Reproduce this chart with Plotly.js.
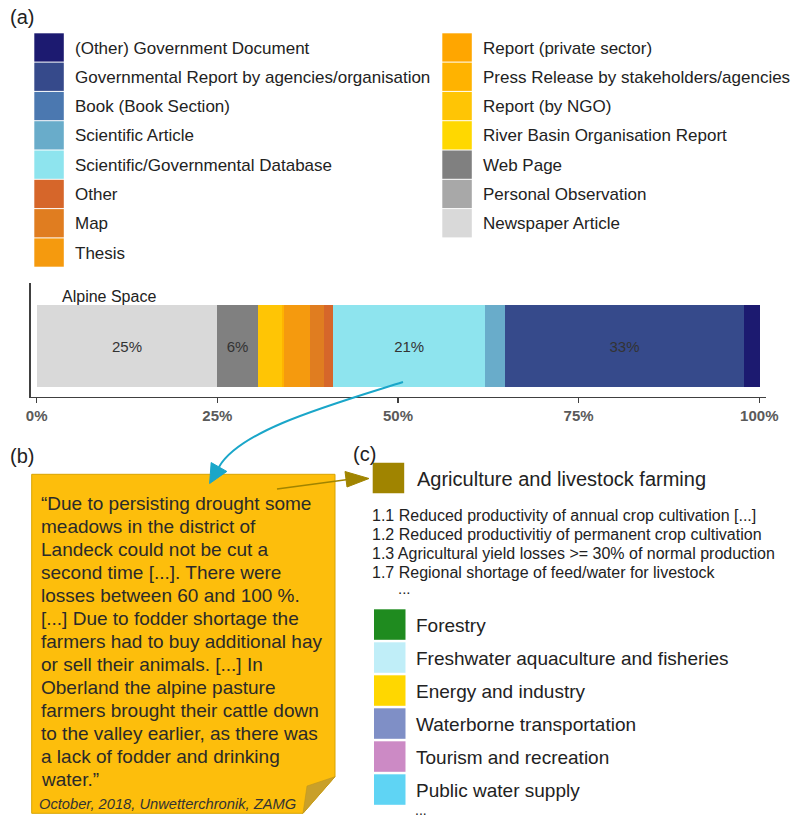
<!DOCTYPE html>
<html>
<head>
<meta charset="utf-8">
<script src="https://cdn.plot.ly/plotly-3.0.1.min.js"></script>
<style>html,body{margin:0;padding:0;background:#fff;}#chart{width:793px;height:819px;}</style>
</head>
<body>
<div id="chart"></div>
<script>
// ---------- data ----------
const categories = [
  '(Other) Government Document',
  'Governmental Report by agencies/organisation',
  'Book (Book Section)',
  'Scientific Article',
  'Scientific/Governmental Database',
  'Other',
  'Map',
  'Thesis',
  'Report (private sector)',
  'Press Release by stakeholders/agencies',
  'Report (by NGO)',
  'River Basin Organisation Report',
  'Web Page',
  'Personal Observation',
  'Newspaper Article'
];
const shares = [2.1, 33.2, 0, 2.7, 21.0, 1.25, 2.0, 3.6, 0, 0.2, 3.4, 0, 5.6, 0, 25.0];
const colors = [
  '#1C1A70', '#364A8B', '#4B78B0', '#69ACCA', '#8EE4EE',
  '#D6662A', '#E07D20', '#F59A0E', '#FFA600', '#FFB300',
  '#FFC505', '#FFD800', '#808080', '#A8A8A8', '#D9D9D9'
];
const region = 'Alpine Space';
const tickVals = [0, 25, 50, 75, 100];
const tickLabels = ['0%', '25%', '50%', '75%', '100%'];

const quoteLines = [
  '\u201CDue to persisting drought some',
  'meadows in the district of',
  'Landeck could not be cut a',
  'second time [...]. There were',
  'losses between 60 and 100 %.',
  '[...] Due to fodder shortage the',
  'farmers had to buy additional hay',
  'or sell their animals. [...] In',
  'Oberland the alpine pasture',
  'farmers brought their cattle down',
  'to the valley earlier, as there was',
  'a lack of fodder and drinking',
  'water.\u201D'
];
const quoteSource = 'October, 2018, Unwetterchronik, ZAMG';

const impactCategories = [
  'Agriculture and livestock farming',
  'Forestry',
  'Freshwater aquaculture and fisheries',
  'Energy and industry',
  'Waterborne transportation',
  'Tourism and recreation',
  'Public water supply'
];
const impactColors = ['#A08400', '#1F8B1F', '#C0EEF8', '#FFD700', '#7F8FC6', '#CC8AC5', '#5FD4F4'];
const agricultureImpacts = [
  '1.1 Reduced productivity of annual crop cultivation [...]',
  '1.2 Reduced productivitiy of permanent crop cultivation',
  '1.3 Agricultural yield losses >= 30% of normal production',
  '1.7 Regional shortage of feed/water for livestock'
];
const panelLabels = ['(a)', '(b)', '(c)'];

// ---------- helpers ----------
const W = 793, H = 819;
const px = x => x / W;
const py = y => 1 - y / H;
const FONT = 'Liberation Sans, Arial, sans-serif';

// ---------- bar traces (stacked from Newspaper Article leftwards) ----------
const traces = [];
for (let i = categories.length - 1; i >= 0; i--) {
  const v = shares[i];
  traces.push({
    type: 'bar', orientation: 'h',
    x: [v], y: [0], width: 1,
    name: categories[i],
    marker: {color: colors[i], line: {width: 0}},
    text: [v >= 5 ? Math.round(v) + '%' : ''],
    textposition: 'inside', insidetextanchor: 'middle', textangle: 0,
    textfont: {family: FONT, size: 15, color: '#333333'},
    hoverinfo: 'skip', showlegend: false
  });
}

const shapes = [];
const annotations = [];

// ---------- legend (a) ----------
const step = 29.3;
categories.forEach((c, i) => {
  const col = i < 8 ? 0 : 1;
  const row = col === 0 ? i : i - 8;
  const x0 = col === 0 ? 34.3 : 442.3;
  const top = 33.3 + row * step;
  shapes.push({type: 'rect', xref: 'paper', yref: 'paper',
    x0: px(x0), x1: px(x0 + 29.5), y0: py(top + step - 1), y1: py(top),
    fillcolor: colors[i], line: {width: 0}});
  annotations.push({xref: 'paper', yref: 'paper', x: px(x0 + 39), y: py(top + 14.8),
    xanchor: 'left', yanchor: 'middle', showarrow: false, text: c,
    font: {family: FONT, size: 17, color: '#222'}});
});

// panel labels
[[8, 17], [8, 456], [351, 454]].forEach((p, i) => {
  annotations.push({xref: 'paper', yref: 'paper', x: px(p[0]), y: py(p[1]),
    xanchor: 'left', yanchor: 'middle', showarrow: false, text: panelLabels[i],
    font: {family: FONT, size: 20, color: '#222'}});
});

// region label
annotations.push({xref: 'paper', yref: 'paper', x: px(60), y: py(296),
  xanchor: 'left', yanchor: 'middle', showarrow: false, text: region,
  font: {family: FONT, size: 16, color: '#222'}});

// ---------- note (b) ----------
const nL = 31.7, nT = 474.3, nR = 335, nB = 813.3, fX = 303, fY = 776.7;
shapes.push({type: 'path', xref: 'paper', yref: 'paper',
  path: `M ${px(nL)} ${py(nT)} L ${px(nR)} ${py(nT)} L ${px(nR)} ${py(fY)} L ${px(fX)} ${py(nB)} L ${px(nL)} ${py(nB)} Z`,
  fillcolor: '#FDBE0C', line: {color: '#D9A400', width: 1}});
shapes.push({type: 'path', xref: 'paper', yref: 'paper',
  path: `M ${px(nR)} ${py(fY)} L ${px(fX)} ${py(nB)} L ${px(307)} ${py(786)} Z`,
  fillcolor: '#C9A02A', line: {color: '#B8921F', width: 0.5}});
quoteLines.forEach((t, i) => {
  annotations.push({xref: 'paper', yref: 'paper', x: px(39), y: py(503.3 + i * 23.05),
    xanchor: 'left', yanchor: 'middle', showarrow: false, text: t,
    font: {family: FONT, size: 19, color: '#2a2a2a'}});
});
annotations.push({xref: 'paper', yref: 'paper', x: px(37), y: py(803.5),
  xanchor: 'left', yanchor: 'middle', showarrow: false, text: '<i>' + quoteSource + '</i>',
  font: {family: FONT, size: 14.7, color: '#333'}});

// ---------- impact list (c) ----------
impactCategories.forEach((c, i) => {
  let top, x0, lx, fs;
  if (i === 0) { top = 462.7; x0 = 372.7; lx = 415; fs = 20; }
  else { top = 609.3 + (i - 1) * 33; x0 = 374; lx = 414; fs = 19; }
  shapes.push({type: 'rect', xref: 'paper', yref: 'paper',
    x0: px(x0), x1: px(x0 + 31.5), y0: py(top + 30.5), y1: py(top),
    fillcolor: impactColors[i], line: {width: 0}});
  annotations.push({xref: 'paper', yref: 'paper', x: px(lx), y: py(top + 16),
    xanchor: 'left', yanchor: 'middle', showarrow: false, text: c,
    font: {family: FONT, size: fs, color: '#222'}});
});
agricultureImpacts.forEach((t, i) => {
  annotations.push({xref: 'paper', yref: 'paper', x: px(370), y: py(515 + i * 19),
    xanchor: 'left', yanchor: 'middle', showarrow: false, text: t,
    font: {family: FONT, size: 16, color: '#222'}});
});
annotations.push({xref: 'paper', yref: 'paper', x: px(396), y: py(588),
  xanchor: 'left', yanchor: 'middle', showarrow: false, text: '...',
  font: {family: FONT, size: 15, color: '#222'}});
annotations.push({xref: 'paper', yref: 'paper', x: px(413), y: py(810),
  xanchor: 'left', yanchor: 'middle', showarrow: false, text: '...',
  font: {family: FONT, size: 14, color: '#222'}});

// ---------- arrows ----------
// cyan curved arrow from bar to note
const cy = '#1AA6C9';
const P0 = [403, 382], P1 = [330, 405], P2 = [240, 430], P3 = [219, 467];
shapes.push({type: 'path', xref: 'paper', yref: 'paper',
  path: `M ${px(P0[0])} ${py(P0[1])} C ${px(P1[0])} ${py(P1[1])} ${px(P2[0])} ${py(P2[1])} ${px(P3[0])} ${py(P3[1])}`,
  line: {color: cy, width: 2}});
(function () {
  let dx = P3[0] - P2[0], dy = P3[1] - P2[1];
  const L = Math.hypot(dx, dy); dx /= L; dy /= L;
  const tip = [P3[0] + dx * 19, P3[1] + dy * 19];
  const b1 = [P3[0] - dy * 9, P3[1] + dx * 9], b2 = [P3[0] + dy * 9, P3[1] - dx * 9];
  shapes.push({type: 'path', xref: 'paper', yref: 'paper',
    path: `M ${px(tip[0])} ${py(tip[1])} L ${px(b1[0])} ${py(b1[1])} L ${px(b2[0])} ${py(b2[1])} Z`,
    fillcolor: cy, line: {color: cy, width: 1}});
})();
// olive arrow from note to agriculture
const ol = '#A08400';
shapes.push({type: 'line', xref: 'paper', yref: 'paper',
  x0: px(277), y0: py(489), x1: px(348), y1: py(479.5), line: {color: ol, width: 1.5}});
shapes.push({type: 'path', xref: 'paper', yref: 'paper',
  path: `M ${px(369)} ${py(478.5)} L ${px(345)} ${py(471.5)} L ${px(347)} ${py(487)} Z`,
  fillcolor: ol, line: {color: ol, width: 1}});

const layout = {
  width: W, height: H,
  margin: {l: 0, r: 0, t: 0, b: 0, pad: 0},
  paper_bgcolor: '#fff', plot_bgcolor: '#fff',
  font: {family: FONT, color: '#222'},
  barmode: 'stack',
  showlegend: false,
  xaxis: {
    domain: [30.7 / W, 766.3 / W], range: [-0.83, 100.97],
    showline: true, linecolor: '#404040', linewidth: 1.5,
    ticks: 'outside', ticklen: 5, tickwidth: 1.5, tickcolor: '#404040',
    tickmode: 'array', tickvals: tickVals, ticktext: tickLabels,
    tickfont: {family: FONT, size: 15, color: '#5a5a5a', weight: 'bold'},
    showgrid: false, zeroline: false, fixedrange: true
  },
  yaxis: {
    domain: [1 - 396.5 / H, 1 - 283 / H], range: [-0.611, 0.769],
    showline: true, linecolor: '#404040', linewidth: 1.5,
    showticklabels: false, ticks: '', showgrid: false, zeroline: false, fixedrange: true
  },
  shapes: shapes,
  annotations: annotations
};

Plotly.newPlot('chart', traces, layout, {displayModeBar: false, staticPlot: true});
</script>
</body>
</html>
